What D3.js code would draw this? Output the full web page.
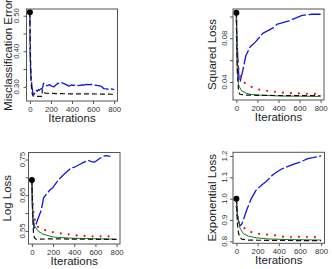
<!DOCTYPE html>
<html>
<head>
<meta charset="utf-8">
<script src="https://cdn.jsdelivr.net/npm/d3@7"></script>
<style>
body{margin:0;background:#fff;}
text{font-family:"Liberation Sans",Arial,sans-serif;}
</style>
</head>
<body>
<div class="mainContainer"></div>
<script>
// tick values / labels
const xTicks = [0, 200, 400, 600, 800];
const misTicks = [0.30, 0.35, 0.40, 0.45, 0.50];
const misTickLabels = ['0.30', '', '0.40', '', '0.50'];
const sqTicks = [0.04, 0.06, 0.08, 0.10];
const sqTickLabels = ['0.04', '', '0.08', ''];
const logTicks = [0.55, 0.60, 0.65, 0.70, 0.75];
const logTickLabels = ['0.55', '', '0.65', '', '0.75'];
const expTicks = [0.8, 0.9, 1.0, 1.1, 1.2];
const expTickLabels = ['0.8', '0.9', '1.0', '1.1', '1.2'];

// [iteration, value]
const misBlue = [[0,0.51],[1,0.45],[2,0.40],[4,0.37],[10,0.33],[20,0.30],[30,0.28],[40,0.278],[50,0.285],[60,0.29],[70,0.287],[80,0.292],[90,0.29],[100,0.293],[110,0.295],[120,0.296],[130,0.31],[145,0.305],[165,0.303],[185,0.306],[205,0.302],[228,0.30],[250,0.306],[275,0.311],[300,0.312],[322,0.309],[345,0.306],[370,0.302],[395,0.305],[417,0.304],[440,0.306],[464,0.303],[490,0.305],[512,0.305],[540,0.307],[559,0.306],[585,0.307],[607,0.305],[630,0.304],[654,0.303],[680,0.301],[700,0.295],[725,0.294],[749,0.293],[775,0.294],[800,0.292]];
const misBlack = [[0,0.51],[5,0.40],[12,0.31],[20,0.283],[30,0.274],[60,0.273],[115,0.273],[118,0.292],[122,0.284],[150,0.282],[250,0.281],[400,0.28],[550,0.28],[800,0.279]];

const sqBlue = [[0,0.1034],[5,0.08],[15,0.06],[25,0.042],[35,0.040],[50,0.046],[60,0.05],[90,0.064],[130,0.072],[180,0.0765],[250,0.0845],[340,0.089],[390,0.093],[500,0.096],[550,0.098],[625,0.101],[720,0.102],[800,0.102]];
const sqRed = [[0,0.1034],[3,0.08],[7,0.066],[12,0.0586],[22,0.051],[44,0.0434],[75,0.0394],[120,0.0363],[160,0.035],[200,0.0335],[250,0.0322],[320,0.0318],[370,0.031],[440,0.0302],[520,0.0297],[610,0.0295],[700,0.0291],[780,0.029]];
const sqBlack = [[0,0.1034],[5,0.07],[10,0.05],[20,0.033],[30,0.029],[50,0.0285],[100,0.028],[200,0.0278],[400,0.0276],[800,0.0274]];
const sqGreen = [[0,0.1034],[5,0.06],[10,0.045],[20,0.038],[28,0.0357],[51,0.0317],[98,0.0296],[130,0.0287],[250,0.0278],[400,0.0272],[600,0.027],[800,0.0268]];

const logBlue = [[0,0.693],[5,0.62],[10,0.584],[20,0.558],[30,0.56],[50,0.578],[89,0.609],[111,0.643],[168,0.664],[200,0.672],[247,0.692],[294,0.706],[373,0.727],[405,0.729],[468,0.739],[531,0.748],[560,0.744],[594,0.743],[630,0.751],[673,0.759],[700,0.761],[740,0.759]];
const logRed = [[0,0.693],[2,0.66],[7,0.631],[13,0.609],[20,0.596],[30,0.58],[45,0.566],[66,0.558],[104,0.554],[160,0.549],[206,0.546],[270,0.543],[340,0.541],[390,0.538],[460,0.537],[530,0.535],[620,0.535],[705,0.535],[790,0.534]];
const logBlack = [[0,0.693],[5,0.64],[10,0.58],[15,0.545],[25,0.53],[40,0.527],[80,0.527],[200,0.528],[400,0.527],[800,0.526]];
const logGreen = [[0,0.693],[3,0.63],[9,0.589],[26,0.564],[57,0.55],[104,0.541],[200,0.533],[350,0.530],[480,0.529],[800,0.527]];

const expBlue = [[0,1.0],[5,0.96],[10,0.93],[20,0.89],[35,0.873],[50,0.88],[66,0.9],[100,0.95],[140,1.0],[186,1.04],[230,1.06],[281,1.08],[344,1.112],[422,1.138],[500,1.154],[550,1.163],[595,1.17],[640,1.18],[674,1.188],[722,1.192],[760,1.196],[800,1.201]];
const expRed = [[0,1.0],[2,0.96],[4,0.94],[8,0.92],[13,0.906],[28,0.886],[66,0.866],[104,0.85],[155,0.841],[200,0.836],[280,0.832],[366,0.828],[420,0.822],[500,0.82],[580,0.821],[680,0.82],[800,0.819]];
const expBlack = [[0,1.0],[5,0.93],[10,0.88],[20,0.84],[30,0.82],[50,0.81],[100,0.806],[200,0.805],[400,0.804],[800,0.803]];
const expGreen = [[0,1.0],[5,0.95],[10,0.93],[19,0.9],[35,0.86],[66,0.836],[113,0.824],[193,0.816],[300,0.811],[500,0.808],[800,0.806]];

const styles = {
    blue:  {stroke:'#1414e0', width:1.3, dash:'15,2.5', cap:'butt'},
    red:   {stroke:'#e81010', width:2.2, dash:'0,8', cap:'round'},
    green: {stroke:'#1d7a1d', width:1, dash:null, cap:'butt'},
    black: {stroke:'#111', width:1.2, dash:'5,3', cap:'butt'}
};

const panels = [
    {title:'Misclassification Error', box:{x:26.5,y:9,w:91,h:92}, labX:18.5, titleX:11.5,
     yDomain:[0.26,0.519], ticks:misTicks, tickLabels:misTickLabels,
     series:[['blue',misBlue],['black',misBlack]]},
    {title:'Squared Loss', box:{x:233,y:9,w:91,h:91}, labX:227, titleX:215.5,
     yDomain:[0.0235,0.1068], ticks:sqTicks, tickLabels:sqTickLabels,
     series:[['blue',sqBlue],['red',sqRed],['green',sqGreen],['black',sqBlack]]},
    {title:'Log Loss', box:{x:28.5,y:152.5,w:91.5,h:91.5}, labX:25.3, titleX:11,
     yDomain:[0.5134,0.7697], ticks:logTicks, tickLabels:logTickLabels,
     series:[['blue',logBlue],['red',logRed],['green',logGreen],['black',logBlack]]},
    {title:'Exponential Loss', box:{x:233,y:152.3,w:91.5,h:91}, labX:227, titleX:215.5,
     yDomain:[0.7906,1.2174], ticks:expTicks, tickLabels:expTickLabels,
     series:[['blue',expBlue],['red',expRed],['green',expGreen],['black',expBlack]]}
];

const svg = d3.select('.mainContainer')
    .append('svg')
    .attr('width', 332)
    .attr('height', 269);

panels.forEach((p, i) => {
    const b = p.box;
    const x = d3.scaleLinear().domain([-32, 832]).range([b.x, b.x + b.w]);
    const y = d3.scaleLinear().domain(p.yDomain).range([b.y + b.h, b.y]);

    const g = svg.append('g');

    // lines
    const line = d3.line().x(d => x(d[0])).y(d => y(d[1]));
    p.series.forEach(([key, data]) => {
        const s = styles[key];
        g.append('path')
            .datum(data)
            .attr('d', line)
            .attr('fill', 'none')
            .attr('stroke', s.stroke)
            .attr('stroke-width', s.width)
            .attr('stroke-dasharray', s.dash)
            .attr('stroke-linecap', s.cap)
            .attr('stroke-linejoin', 'round');
    });

    // starting point
    const start = p.series[0][1][0];
    g.append('circle')
        .attr('cx', x(start[0]))
        .attr('cy', y(start[1]))
        .attr('r', 3)
        .attr('fill', '#000');

    // box
    g.append('rect')
        .attr('x', b.x).attr('y', b.y)
        .attr('width', b.w).attr('height', b.h)
        .attr('fill', 'none')
        .attr('stroke', '#555')
        .attr('stroke-width', 1);

    // x axis
    const xAxis = d3.axisBottom(x).tickValues(xTicks).tickSize(3).tickPadding(2);
    const xg = g.append('g')
        .attr('transform', `translate(0,${b.y + b.h})`)
        .call(xAxis);
    xg.select('.domain').remove();
    xg.selectAll('line').attr('stroke', '#555');
    xg.selectAll('text')
        .attr('font-size', 7.8)
        .attr('fill', '#333')
        .attr('font-family', '"Liberation Sans",Arial,sans-serif');

    // y axis ticks
    const yAxis = d3.axisLeft(y).tickValues(p.ticks).tickSize(3).tickFormat('');
    const yg = g.append('g')
        .attr('transform', `translate(${b.x},0)`)
        .call(yAxis);
    yg.select('.domain').remove();
    yg.selectAll('line').attr('stroke', '#555');

    // y tick labels, rotated
    g.selectAll('.ylab')
        .data(p.ticks.map((t, k) => [t, p.tickLabels[k]]).filter(d => d[1] !== ''))
        .enter()
        .append('text')
        .attr('transform', d => `translate(${p.labX},${y(d[0])}) rotate(-90)`)
        .attr('text-anchor', 'middle')
        .attr('font-size', 7.8)
        .attr('fill', '#333')
        .text(d => d[1]);

    // titles
    g.append('text')
        .attr('x', b.x + b.w / 2)
        .attr('y', b.y + b.h + 21)
        .attr('text-anchor', 'middle')
        .attr('font-size', 11.5)
        .attr('fill', '#222')
        .text('Iterations');

    g.append('text')
        .attr('transform', `translate(${p.titleX},${b.y + b.h / 2}) rotate(-90)`)
        .attr('text-anchor', 'middle')
        .attr('font-size', 11.5)
        .attr('fill', '#222')
        .text(p.title);
});
</script>
</body>
</html>
